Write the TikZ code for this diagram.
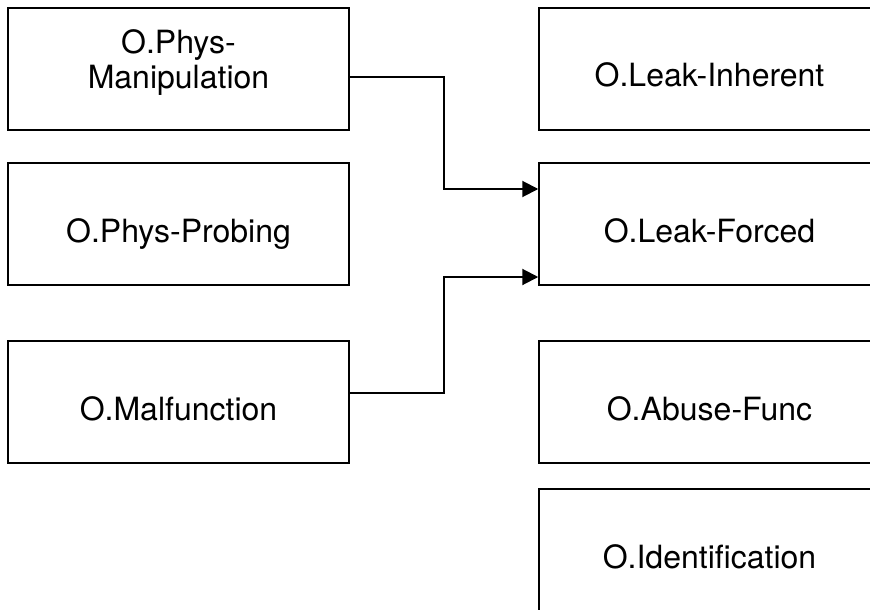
\documentclass[tikz,border=0pt]{standalone}
\usepackage{fontspec}
\setmainfont{TeX Gyre Heros}
\usetikzlibrary{arrows.meta}

\begin{document}
\begin{tikzpicture}[x=0.5pt, y=-0.5pt,
    every node/.style={draw, rectangle, line width=0.75pt, minimum width=170.5pt, minimum height=61pt, inner sep=0pt, align=center, font=\fontsize{16}{17.5}\selectfont},
    oneline/.style={text height=18pt, text depth=0pt},
    twoline/.style={text depth=10pt},
    link/.style={line width=1pt, -{Triangle[length=8pt,width=8pt]}}]
    \path[use as bounding box, clip] (0,0) rectangle (870,609);

    %––––– left column –––––
    \node[twoline] (manip) at (178.5,69) {O.Phys-\\Manipulation};
    \node[oneline] (probe) at (178.5,224) {O.Phys-Probing};
    \node[oneline] (malf) at (178.5,402) {O.Malfunction};

    %––––– right column –––––
    \node[oneline] (inher) at (709.5,69) {O.Leak-Inherent};
    \node[oneline] (forced) at (709.5,224) {O.Leak-Forced};
    \node[oneline] (abuse) at (709.5,402) {O.Abuse-Func};
    \node[oneline] (ident) at (709.5,550) {O.Identification};

    %––––– links –––––
    \draw[link] ([yshift=-4pt]manip.east) -- ++(94,0) |- ([yshift=17.5pt]forced.west);
    \draw[link] ([yshift=4.5pt]malf.east) -- ++(94,0) |- ([yshift=-26.5pt]forced.west);
  \end{tikzpicture}
\end{document}
